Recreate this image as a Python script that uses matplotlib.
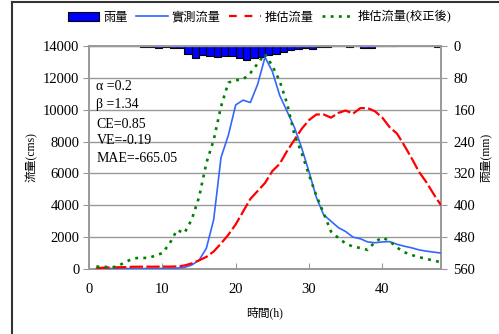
import matplotlib
matplotlib.use("Agg")
import matplotlib.pyplot as plt
from matplotlib.patches import Patch
from matplotlib.lines import Line2D
import numpy as np

plt.rcParams['font.family'] = ['Liberation Serif', 'Noto Sans CJK TC']

# 時間 (hr) 1..48
hours = np.arange(1, 49)

# 時雨量 (mm), 每一小時一根
rain = [0.5, 0.5, 0.5, 0.5, 0.5, 0.5, 0.5, 2, 2, 6,
        3, 5, 6, 21, 29, 22, 24, 28, 24, 25,
        29, 35, 29, 28, 22, 19, 14, 10, 7, 5,
        7, 3, 2, 1, 1, 3, 1, 4, 4, 1,
        1, 1, 0, 0, 0, 0, 0, 2]

# 實測流量 (cms)
obs = [30, 30, 30, 30, 30, 30, 30, 30, 30, 35,
       40, 60, 100, 250, 550, 1300, 3100, 7000, 8400, 10300,
       10600, 10450, 11600, 13300, 12400, 10900, 9900, 8900, 7600, 6100,
       4500, 3400, 3000, 2600, 2350, 2000, 1900, 1700, 1650, 1700,
       1720, 1550, 1430, 1330, 1200, 1120, 1060, 1000]

# 推估流量 (cms)
est = [60, 80, 100, 110, 120, 140, 145, 145, 145, 150,
       150, 160, 220, 350, 540, 760, 1100, 1600, 2150, 2800,
       3600, 4400, 4900, 5400, 6150, 6600, 7400, 8100, 8800, 9350,
       9700, 9700, 9500, 9800, 9950, 9750, 10100, 10100, 9900, 9500,
       8900, 8500, 7750, 6950, 6100, 5450, 4700, 4000]

# 推估流量(校正後) (cms)
est_adj = [150, 150, 80, 200, 450, 650, 720, 680, 830, 1000,
           1600, 2450, 2250, 3100, 4500, 6650, 8100, 10200, 11700, 11850,
           11900, 12300, 12900, 13500, 12750, 11800, 10400, 8450, 7280, 5900,
           4600, 3500, 2350, 1950, 1600, 1400, 1320, 1200, 1700, 1980,
           1750, 1350, 1050, 880, 740, 640, 520, 430]

params = ['α =0.2', 'β =1.34', 'CE=0.85', 'VE=-0.19', 'MAE=-665.05']

fig = plt.figure(figsize=(4.99, 3.34), dpi=100)
ax = fig.add_axes([0.1784, 0.1946, 0.7054, 0.6677])
ax2 = ax.twinx()

grey = '#999999'

# 流量
ax.plot(hours, obs, color='#3366FF', lw=1.2, zorder=3)
ax.plot(hours, est, color='#FF0000', lw=1.6, ls=(0, (6, 1.5)), zorder=3)
ax.plot(hours, est_adj, color='#008000', lw=1.9, ls=(0, (1.1, 2.0)), zorder=4)

ax.set_xlim(0, 48)
ax.set_ylim(0, 14000)
ax.set_xticks([0, 10, 20, 30, 40])
ax.set_yticks(np.arange(0, 14001, 2000))
ax.grid(axis='y', color=grey, lw=1.0)
ax.set_axisbelow(True)
ax.tick_params(axis='x', direction='in', length=4, color=grey, pad=10, labelsize=10.5)
ax.tick_params(axis='y', direction='out', length=4, color=grey, pad=3, labelsize=10.5)
for s in ax.spines.values():
    s.set_color(grey)
    s.set_linewidth(1.2)

ax.set_xlabel('時間(h)', fontsize=8.5, labelpad=8)
ax.set_ylabel('流量(cms)', fontsize=8.5, labelpad=4)

ypos = [11430, 10300, 9100, 8060, 6910]
for t, yv in zip(params, ypos):
    ax.text(1.0, yv, t, fontsize=10, va='center', ha='left')

# 雨量 (倒置於右軸)
r = np.array(rain, dtype=float)
mask = r > 0
ax2.bar(hours[mask] - 0.5, r[mask], width=1.0, color='#0000FF',
        edgecolor='black', linewidth=0.8, zorder=2)
ax2.set_ylim(560, 0)
ax2.set_yticks(np.arange(0, 561, 80))
ax2.tick_params(axis='y', direction='out', length=4, color=grey, pad=5, labelsize=10.5)
for s in ax2.spines.values():
    s.set_color(grey)
    s.set_linewidth(1.2)
ax2.set_ylabel('雨量(mm)', fontsize=8.5, rotation=90, labelpad=3)

ax.set_zorder(ax2.get_zorder() + 1)
ax.patch.set_visible(False)

handles = [Patch(facecolor='#0000FF', edgecolor='black', lw=0.8),
           Line2D([], [], color='#3366FF', lw=1.2),
           Line2D([], [], color='#FF0000', lw=1.6, ls=(0, (3.5, 3.5))),
           Line2D([], [], color='#008000', lw=1.9, ls=(0, (1.1, 2.0)))]
labels = ['雨量', '實測流量', '推估流量', '推估流量(校正後)']
fig.legend(handles, labels, loc='center', bbox_to_anchor=(0.52, 0.949), ncol=4,
           frameon=False, fontsize=8.8, handlelength=2.6, handletextpad=0.3,
           columnspacing=0.7)

# 外框
fig.add_artist(Line2D([12 / 499, 12 / 499], [0, 1 - 2 / 334], color='#333333', lw=1.5,
                      transform=fig.transFigure))
fig.add_artist(Line2D([12 / 499, 1], [1 - 2 / 334, 1 - 2 / 334], color='#333333', lw=1.5,
                      transform=fig.transFigure))

fig.savefig('out.png', dpi=100)
